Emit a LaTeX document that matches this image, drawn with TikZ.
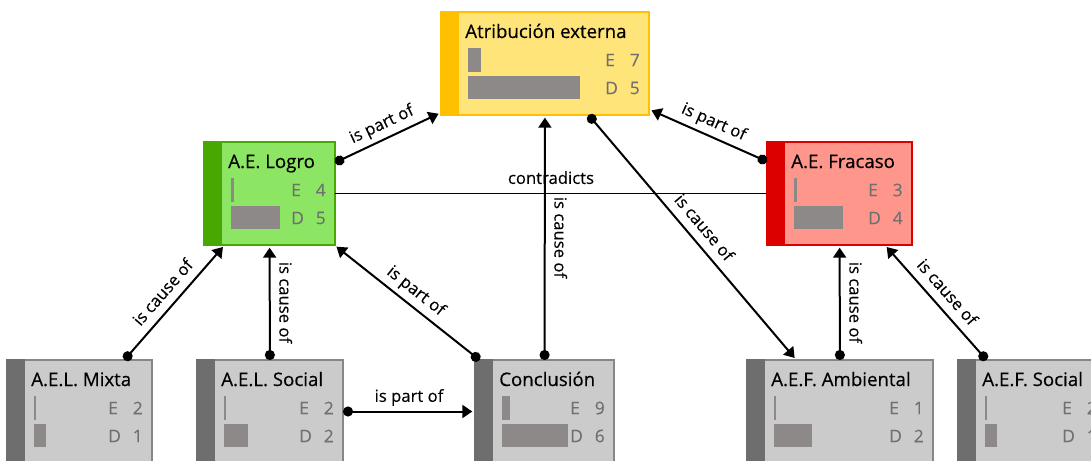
\documentclass[tikz,border=0pt]{standalone}
\usepackage{fontspec}
\setmainfont{Open Sans}
\newfontfamily\titlefont{Open Sans}[FakeBold=0.35]
\newfontfamily\labelfont{Open Sans}[FakeBold=0.2]
\usetikzlibrary{arrows.meta}
\definecolor{ybox}{RGB}{255,228,122}
\definecolor{ybar}{RGB}{255,192,0}
\definecolor{gbox}{RGB}{140,230,100}
\definecolor{gbar}{RGB}{72,168,0}
\definecolor{rbox}{RGB}{255,150,140}
\definecolor{rbar}{RGB}{220,0,0}
\definecolor{kbox}{RGB}{203,203,203}
\definecolor{kbar}{RGB}{110,110,110}
\definecolor{kedge}{RGB}{135,135,135}
\definecolor{valbar}{RGB}{142,137,137}
\definecolor{valtext}{RGB}{112,112,112}
\tikzset{
  cbox/.style={rectangle, inner sep=0pt, outer sep=0pt, minimum height=77.25pt, line width=1.1pt, anchor=north west},
  yellowbox/.style={cbox, fill=ybox, draw=ybar},
  yellowbar/.style={fill=ybar},
  greenbox/.style={cbox, fill=gbox, draw=gbar},
  greenbar/.style={fill=gbar},
  redbox/.style={cbox, fill=rbox, draw=rbar},
  redbar/.style={fill=rbar},
  graybox/.style={cbox, fill=kbox, draw=kedge},
  graybar/.style={fill=kbar},
  ctitle/.style={anchor=base west, inner sep=0pt, font=\titlefont\fontsize{14}{16}\selectfont, text=black},
  cval/.style={inner sep=0pt, font=\labelfont\fontsize{13}{15}\selectfont, text=valtext},
  conn/.style={line width=1.5pt, {Circle[length=7.5pt]}-{Triangle[length=7.5pt,width=9.75pt]}, shorten >=2pt},
  plainconn/.style={line width=1.4pt},
  clabel/.style={font=\labelfont\fontsize{12.5}{14}\selectfont, inner sep=4pt, text depth=0.25em},
  vlabel/.style={clabel, rotate=-90, anchor=south},
}
\newcommand{\conceptvals}[3]{%
  \begin{scope}[shift={(#1.north east)}]
    \node[cval, anchor=west] (#1-el) at (-44,48) {E};
    \node[cval, anchor=east] (#1-ev) at (-9,48) {#2};
    \node[cval, anchor=west] (#1-dl) at (-44,76) {D};
    \node[cval, anchor=east] (#1-dv) at (-9,76) {#3};
  \end{scope}%
}
\newcommand{\concept}[9]{%
  \node[#5box, minimum width=#4*0.75pt] (#1) at (#2,#3) {};
  \begin{scope}[shift={(#1.north west)}]
    \fill[#5bar] (-0.7,-0.7) rectangle (18,103.7);
    \node[ctitle] (#1-title) at (24,26) {#6};
    \fill[valbar] (27,36) rectangle ++(#7,24);
    \fill[valbar] (27,64) rectangle ++(#8,23);
  \end{scope}
  \conceptvals{#1}#9%
}
\begin{document}
\begin{tikzpicture}[x=0.75pt, y=-0.75pt]
\fill[white, use as bounding box] (0,0) rectangle (1091,460);
\clip (0,0) rectangle (1091,460);

\concept{atrib}{441}{12}{208}{yellow}{Atribución externa}{13}{112}{{7}{5}}
\concept{logro}{204}{142}{131}{green}{A.E. Logro}{2.5}{49}{{4}{5}}
\concept{fracaso}{767}{142}{145}{red}{A.E. Fracaso}{2.5}{49}{{3}{4}}
\concept{mixta}{7}{360}{145}{gray}{A.E.L. Mixta}{1.5}{12}{{2}{1}}
\concept{aelsocial}{197}{360}{146}{gray}{A.E.L. Social}{1.5}{24}{{2}{2}}
\concept{conclusion}{475}{360}{139}{gray}{Conclusión}{8}{66}{{9}{6}}
\concept{ambiental}{747}{360}{186}{gray}{A.E.F. Ambiental}{1.5}{38}{{1}{2}}
\concept{aefsocial}{958}{360}{148}{gray}{A.E.F. Social}{1.5}{12}{{2}{1}}

\draw[plainconn] (logro) -- node[clabel, above] (l-contr) {contradicts} (fracaso);
\draw[conn] (logro) -- node[clabel, sloped, above] (l-lp) {is part of} (atrib);
\draw[conn] (fracaso) -- node[clabel, sloped, above] (l-fp) {is part of} (atrib);
\draw[conn] (conclusion) -- node[vlabel] (l-ca) {is cause of} (atrib);
\draw[conn] (atrib) -- node[clabel, sloped, above] (l-aa) {is cause of} (ambiental);
\draw[conn] (mixta) -- node[clabel, sloped, above] (l-ml) {is cause of} (logro);
\draw[conn] (aelsocial) -- node[vlabel] (l-sl) {is cause of} (logro);
\draw[conn] (conclusion) -- node[clabel, sloped, above] (l-cl) {is part of} (logro);
\draw[conn] (ambiental) -- node[vlabel] (l-af) {is cause of} (fracaso);
\draw[conn] (aefsocial) -- node[clabel, sloped, above] (l-sf) {is cause of} (fracaso);
\draw[conn] (aelsocial) -- node[clabel, above] (l-sc) {is part of} (conclusion);
\end{tikzpicture}
\end{document}
